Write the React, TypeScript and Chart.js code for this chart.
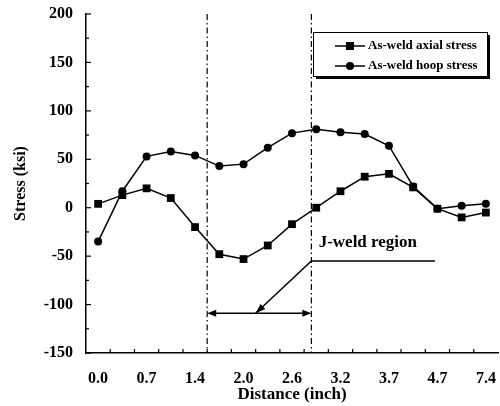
import { useEffect, useRef } from 'react';
import { Chart, registerables } from 'chart.js';

Chart.register(...registerables);

// ---- data ----
const distanceLabels = ['0.0', '0.7', '1.4', '2.0', '2.6', '3.2', '3.7', '4.7', '7.4'];
const axialStress = [4, 13, 20, 10, -20, -48, -53, -39, -17, 0, 17, 32, 35, 21, -1, -10, -5];
const hoopStress = [-35, 17, 53, 58, 54, 43, 45, 62, 77, 81, 78, 76, 64, 22, -1, 2, 4];
const seriesNames = ['As-weld axial stress', 'As-weld hoop stress'];
const yMin = -150;
const yMax = 200;
const yStep = 50;

// J-weld region annotation (in data units: x = station index, y = ksi)
const weldStart = 4.5;
const weldEnd = 8.8;
const arrowLevel = -109;
const leaderLevel = -55;
const leaderEnd = 13.9;
const leaderTip = 6.5;
const regionLabel = 'J-weld region';
const regionLabelX = 9.1;
const regionLabelY = -36;

const SERIF = "'Liberation Serif', 'Times New Roman', serif";

function arrowHead(ctx: CanvasRenderingContext2D, fx: number, fy: number, tx: number, ty: number, len = 9, half = 3.5) {
  const a = Math.atan2(ty - fy, tx - fx);
  ctx.beginPath();
  ctx.moveTo(tx, ty);
  ctx.lineTo(tx - len * Math.cos(a) + half * Math.sin(a), ty - len * Math.sin(a) - half * Math.cos(a));
  ctx.lineTo(tx - len * Math.cos(a) - half * Math.sin(a), ty - len * Math.sin(a) + half * Math.cos(a));
  ctx.closePath();
  ctx.fill();
}

const innerTicks = {
  id: 'innerTicks',
  afterDraw(chart: any) {
    const { ctx, chartArea, scales } = chart;
    const { x, y } = scales;
    ctx.save();
    ctx.strokeStyle = '#000';
    ctx.lineWidth = 1.2;
    for (let v = yMin; v <= yMax; v += yStep / 2) {
      const py = y.getPixelForValue(v);
      const len = v % yStep === 0 ? 5 : 3;
      ctx.beginPath();
      ctx.moveTo(chartArea.left, py);
      ctx.lineTo(chartArea.left + len, py);
      ctx.stroke();
    }
    for (let k = 0; k < axialStress.length - 1; k++) {
      const px = x.getPixelForValue(k + 0.5);
      ctx.beginPath();
      ctx.moveTo(px, chartArea.bottom);
      ctx.lineTo(px, chartArea.bottom - 4);
      ctx.stroke();
    }
    ctx.restore();
  },
};

const annotate = {
  id: 'annotate',
  afterDatasetsDraw(chart: any) {
    const { ctx, chartArea, scales } = chart;
    const { x, y } = scales;
    ctx.save();
    ctx.strokeStyle = '#000';
    ctx.fillStyle = '#000';
    // dash-dot region limits
    ctx.lineWidth = 1.2;
    ctx.setLineDash([6, 3, 1.5, 3]);
    [weldStart, weldEnd].forEach((v) => {
      const px = x.getPixelForValue(v);
      ctx.beginPath();
      ctx.moveTo(px, chartArea.top);
      ctx.lineTo(px, chartArea.bottom);
      ctx.stroke();
    });
    ctx.setLineDash([]);
    // double arrow
    ctx.lineWidth = 1.5;
    const x1 = x.getPixelForValue(weldStart);
    const x2 = x.getPixelForValue(weldEnd);
    const ya = y.getPixelForValue(arrowLevel);
    ctx.beginPath();
    ctx.moveTo(x1 + 4, ya);
    ctx.lineTo(x2 - 4, ya);
    ctx.stroke();
    arrowHead(ctx, x2, ya, x1, ya);
    arrowHead(ctx, x1, ya, x2, ya);
    // leader
    const xl = x.getPixelForValue(leaderEnd);
    const yl = y.getPixelForValue(leaderLevel);
    const xt = x.getPixelForValue(leaderTip);
    ctx.beginPath();
    ctx.moveTo(xl, yl);
    ctx.lineTo(x2, yl);
    ctx.lineTo(xt, ya);
    ctx.stroke();
    arrowHead(ctx, x2, yl, xt, ya, 10, 3.5);
    // label
    ctx.font = `bold 17px ${SERIF}`;
    ctx.textAlign = 'left';
    ctx.textBaseline = 'middle';
    ctx.fillText(regionLabel, x.getPixelForValue(regionLabelX), y.getPixelForValue(regionLabelY));
    ctx.restore();
  },
};

const boxLegend = {
  id: 'boxLegend',
  afterDraw(chart: any) {
    const { ctx } = chart;
    const left = 313;
    const top = 32;
    const w = 174;
    const h = 44;
    ctx.save();
    ctx.fillStyle = '#000';
    ctx.fillRect(left + 3, top + 3, w, h);
    ctx.fillStyle = '#fff';
    ctx.fillRect(left, top, w, h);
    ctx.strokeStyle = '#000';
    ctx.lineWidth = 1;
    ctx.strokeRect(left + 0.5, top + 0.5, w, h);
    const rows = [top + 14, top + 34];
    chart.data.datasets.forEach((ds: any, i: number) => {
      const ry = rows[i];
      ctx.strokeStyle = '#000';
      ctx.lineWidth = 1.5;
      ctx.beginPath();
      ctx.moveTo(335, ry);
      ctx.lineTo(365, ry);
      ctx.stroke();
      ctx.fillStyle = '#000';
      if (ds.pointStyle === 'rect') {
        ctx.fillRect(350 - 4, ry - 4, 8, 8);
      } else {
        ctx.beginPath();
        ctx.arc(350, ry, 4, 0, Math.PI * 2);
        ctx.fill();
      }
      ctx.font = `bold 13px ${SERIF}`;
      ctx.textAlign = 'left';
      ctx.textBaseline = 'middle';
      ctx.fillText(ds.label, 368, ry);
    });
    ctx.restore();
  },
};

export default function App() {
  const ref = useRef<HTMLCanvasElement | null>(null);

  useEffect(() => {
    document.body.style.margin = '0';
    if (!ref.current) return;
    const chart = new Chart(ref.current, {
      type: 'line',
      data: {
        datasets: [
          {
            label: seriesNames[0],
            data: axialStress.map((v, i) => ({ x: i, y: v })),
            borderColor: '#000',
            backgroundColor: '#000',
            borderWidth: 1.5,
            pointStyle: 'rect',
            pointRadius: 5.5,
            pointBorderWidth: 0,
            tension: 0,
          },
          {
            label: seriesNames[1],
            data: hoopStress.map((v, i) => ({ x: i, y: v })),
            borderColor: '#000',
            backgroundColor: '#000',
            borderWidth: 1.5,
            pointStyle: 'circle',
            pointRadius: 4,
            pointBorderWidth: 0,
            tension: 0,
          },
        ],
      },
      options: {
        responsive: false,
        animation: false,
        devicePixelRatio: 1,
        layout: { padding: { top: 14, right: 2, left: 0, bottom: 0 }, autoPadding: false },
        plugins: {
          legend: { display: false },
          tooltip: { enabled: false },
        },
        scales: {
          x: {
            type: 'linear',
            min: -0.5,
            max: axialStress.length - 0.5,
            afterBuildTicks: (s: any) => {
              s.ticks = distanceLabels.map((_, i) => ({ value: i * 2 }));
            },
            afterFit: (s: any) => {
              s.height = 53;
              s.paddingLeft = 0;
              s.paddingRight = 0;
            },
            grid: { display: true, drawOnChartArea: false, drawTicks: false },
            border: { display: true, color: '#000', width: 1.5 },
            ticks: {
              autoSkip: false,
              maxRotation: 0,
              padding: 16,
              color: '#000',
              font: { family: SERIF, size: 16, weight: 'bold' },
              callback: (_v: any, i: number) => distanceLabels[i],
            },
            title: {
              display: true,
              text: 'Distance (inch)',
              color: '#000',
              font: { family: SERIF, size: 17, weight: 'bold' },
              padding: { top: 0, bottom: 1 },
            },
          },
          y: {
            type: 'linear',
            min: yMin,
            max: yMax,
            afterFit: (s: any) => {
              s.width = 86;
              s.paddingTop = 0;
              s.paddingBottom = 0;
            },
            grid: { display: true, drawOnChartArea: false, drawTicks: false },
            border: { display: true, color: '#000', width: 1.5 },
            ticks: {
              stepSize: yStep,
              padding: 13,
              color: '#000',
              font: { family: SERIF, size: 16, weight: 'bold' },
            },
            title: {
              display: true,
              text: 'Stress (ksi)',
              color: '#000',
              font: { family: SERIF, size: 16, weight: 'bold' },
              padding: { top: 11, bottom: 0 },
            },
          },
        },
      } as any,
      plugins: [innerTicks, annotate, boxLegend],
    });
    return () => chart.destroy();
  }, []);

  return (
    <div style={{ width: 500, height: 406, background: '#fff' }}>
      <canvas ref={ref} width={500} height={406} />
    </div>
  );
}
